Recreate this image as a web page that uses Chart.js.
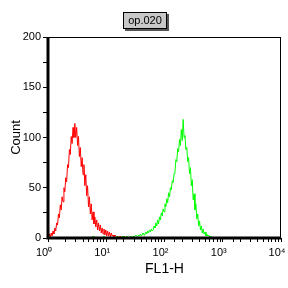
<!DOCTYPE html>
<html>
<head>
<meta charset="utf-8">
<script src="https://cdn.jsdelivr.net/npm/chart.js@4.4.1/dist/chart.umd.min.js"></script>
<style>
  body { margin: 0; background: #fff; }
  #wrap { position: relative; width: 288px; height: 288px; }
  #tag {
    position: absolute; left: 123px; top: 12px; width: 42px; height: 15px;
    background: #c8c8c8; border: 1px solid #000; box-shadow: 2px 2px 0 #555;
    font: 11px "Liberation Sans", Arial, sans-serif; text-align: center; line-height: 15px;
  }
</style>
</head>
<body>
<div id="wrap">
  <canvas id="chart" width="288" height="288"></canvas>
  <div id="tag">op.020</div>
</div>
<script>
// histogram channels, 64 per decade on FL1-H
const channelsPerDecade = 64;
const xTickLabels = { 1: "10\u2070", 10: "10\u00b9", 100: "10\u00b2", 1000: "10\u00b3", 10000: "10\u2074" };

const redStart = 0;
const redCounts = [
  1, 4, 1, 5, 2, 7, 4, 10, 7, 15,
  13, 24, 20, 33, 28, 41, 36, 50, 46, 60,
  56, 73, 70, 88, 83, 101, 94, 110, 100, 114,
  100, 110, 92, 101, 81, 90, 71, 80, 63, 73,
  52, 63, 42, 52, 31, 41, 24, 34, 18, 26,
  14, 21, 11, 18, 8, 15, 7, 13, 5, 10,
  4, 9, 3, 8, 2, 7, 2, 6, 1, 5,
  2, 3, 1, 3, 2, 1, 2, 0, 1, 2,
  1, 0, 1, 2, 0, 1, 0, 1, 0, 1,
  0, 1, 0, 0, 1, 0, 0, 0, 1, 0, 0
];

const greenStart = 40;
const greenCounts = [
  0, 0, 1, 0, 0, 0, 1, 0, 0, 2,
  0, 0, 1, 0, 0, 1, 0, 0, 0, 1,
  0, 2, 0, 0, 1, 0, 0, 1, 0, 0,
  1, 0, 1, 0, 0, 2, 0, 1, 0, 1,
  0, 1, 2, 0, 1, 0, 2, 1, 0, 1,
  2, 1, 0, 2, 1,
  1, 3, 2, 1, 3, 2, 4, 2, 3, 5,
  3, 4, 6, 4, 7, 5, 8, 6, 9, 7,
  8, 12, 10, 15, 12, 18, 14, 21, 18, 25,
  22, 29, 26, 34, 31, 39, 35, 45, 41, 50,
  48, 57, 55, 64, 66, 78, 76, 89, 86, 98,
  92, 108, 97, 118, 100, 102, 88, 90, 76, 80,
  64, 70, 52, 58, 38, 44, 28, 34, 19, 24,
  12, 17, 8, 12, 5, 9, 4, 6, 2, 4,
  2, 3, 1, 2, 1, 1, 0, 1, 0, 0,
  0, 1, 0, 0, 0, 0
];

function toPoints(start, counts) {
  return counts.map((y, i) => ({ x: Math.pow(10, (start + i + 0.5) / channelsPerDecade), y: y }));
}

const font = { family: "'Liberation Sans', Arial, sans-serif", size: 11 };

// box around the plot, thick left and bottom edges on top of the data
const framePlugin = {
  id: "frame",
  afterDatasetsDraw(chart) {
    const { ctx, chartArea: a } = chart;
    ctx.save();
    ctx.strokeStyle = "#000";
    ctx.lineWidth = 1;
    ctx.strokeRect(a.left + 0.5, a.top + 0.5, a.right - a.left - 1, a.bottom - a.top);
    ctx.lineWidth = 3;
    ctx.beginPath();
    ctx.moveTo(a.left, a.top);
    ctx.lineTo(a.left, a.bottom);
    ctx.lineTo(a.right, a.bottom);
    ctx.stroke();
    ctx.restore();
  }
};

new Chart(document.getElementById("chart"), {
  type: "line",
  data: {
    datasets: [
      {
        data: toPoints(greenStart, greenCounts),
        borderColor: "#00ff00",
        borderWidth: 1,
        pointRadius: 0,
        tension: 0
      },
      {
        data: toPoints(redStart, redCounts),
        borderColor: "#ff0000",
        borderWidth: 1,
        pointRadius: 0,
        tension: 0
      }
    ]
  },
  options: {
    responsive: false,
    animation: false,
    devicePixelRatio: 1,
    layout: { padding: { top: 37, right: 0, left: 0, bottom: 10 } },
    plugins: { legend: { display: false }, tooltip: { enabled: false } },
    scales: {
      x: {
        type: "logarithmic",
        min: 1,
        max: 10000,
        border: { display: false },
        grid: { drawOnChartArea: false, tickLength: 4, tickColor: "#000" },
        ticks: {
          autoSkip: false,
          maxRotation: 0,
          color: "#000",
          font: font,
          padding: 4,
          labelOffset: -4,
          callback: (v) => xTickLabels[v] || ""
        },
        title: { display: true, text: "FL1-H", color: "#000", font: { family: font.family, size: 14 }, padding: 0 },
        afterFit: (s) => { s.height -= 2; s.paddingRight = 7; }
      },
      y: {
        min: 0,
        max: 200,
        border: { display: false },
        grid: { drawOnChartArea: false, tickLength: 5, tickColor: "#000" },
        ticks: {
          stepSize: 25,
          color: "#000",
          font: font,
          padding: 2,
          callback: (v) => (v % 50 === 0 ? v : "")
        },
        title: { display: true, text: "Count", color: "#000", font: { family: font.family, size: 13 }, padding: { top: 9, bottom: 0 } },
        afterFit: (s) => { s.width = 48; }
      }
    }
  },
  plugins: [framePlugin]
});
</script>
</body>
</html>
